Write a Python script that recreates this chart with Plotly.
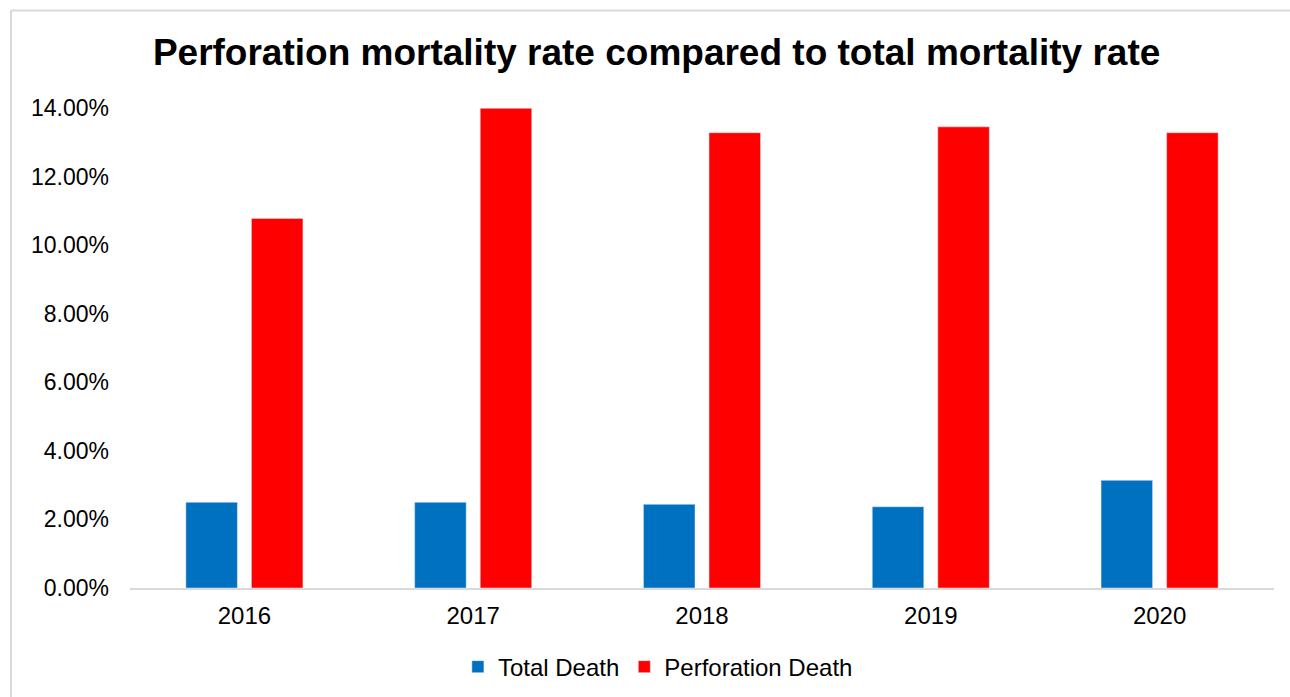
import plotly.graph_objects as go

years = ["2016", "2017", "2018", "2019", "2020"]
total_death = [0.0250, 0.0250, 0.0244, 0.0237, 0.0314]
perforation_death = [0.1078, 0.1399, 0.1328, 0.1345, 0.1328]

FONT = "Liberation Sans, Arial, sans-serif"
BORDER = "#d9d9d9"

fig = go.Figure()

fig.add_trace(
    go.Bar(
        x=years,
        y=total_death,
        name="Total Death",
        marker_color="#0070c0"
    )
)

fig.add_trace(
    go.Bar(
        x=years,
        y=perforation_death,
        name="Perforation Death",
        marker_color="#ff0000"
    )
)

# light grey outline of the chart area (left and top edges only)
fig.add_shape(type="line", xref="paper", yref="paper",
              x0=-0.104, x1=1.2, y0=1.203, y1=1.203,
              line=dict(color=BORDER, width=2))
fig.add_shape(type="line", xref="paper", yref="paper",
              x0=-0.104, x1=-0.104, y0=1.203, y1=-0.3,
              line=dict(color=BORDER, width=2))

fig.update_layout(
    width=1290,
    height=697,
    margin=dict(l=130, r=16, t=108, b=109),
    paper_bgcolor="white",
    plot_bgcolor="white",
    font=dict(family=FONT, size=23, color="#000000"),
    title=dict(
        text="<b>Perforation mortality rate compared to total mortality rate</b>",
        x=0.509,
        xref="container",
        xanchor="center",
        y=0.925,
        yref="container",
        yanchor="middle",
        font=dict(family=FONT, size=37, color="#000000")
    ),
    barmode="group",
    bargap=0.427,
    bargroupgap=0.214,
    showlegend=True,
    legend=dict(
        orientation="h",
        x=0.51,
        xref="container",
        xanchor="center",
        y=0.043,
        yref="container",
        yanchor="middle",
        font=dict(family=FONT, size=24),
        itemwidth=30,
        traceorder="normal"
    ),
    xaxis=dict(
        showgrid=False,
        showline=True,
        linecolor=BORDER,
        linewidth=2,
        ticks="",
        ticklabelstandoff=5,
        tickfont=dict(family=FONT, size=24)
    ),
    yaxis=dict(
        range=[0, 0.14],
        dtick=0.02,
        tickformat=".2%",
        showgrid=False,
        zeroline=False,
        showline=False,
        ticks="",
        ticklabelstandoff=20,
        tickfont=dict(family=FONT, size=23)
    )
)

fig.write_html(
    "out.html",
    config={"displayModeBar": False},
    post_script="document.body.style.margin = '0';"
)
